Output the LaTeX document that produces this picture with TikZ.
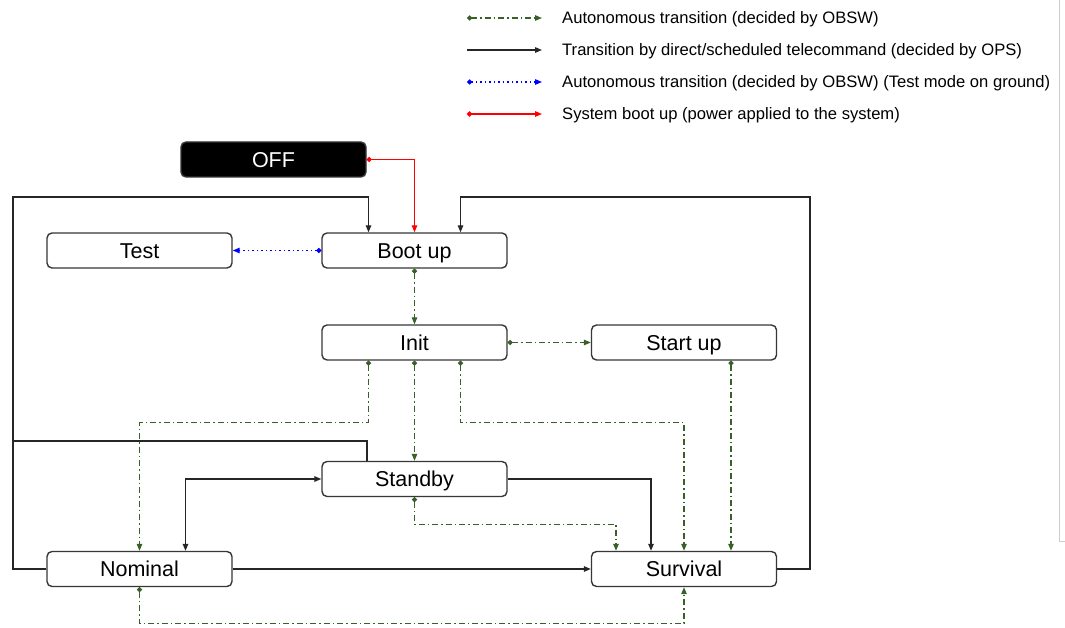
\documentclass[tikz,border=0pt]{standalone}
\usepackage{fontspec}
\setmainfont{Liberation Sans}
\usetikzlibrary{arrows.meta}
\definecolor{obsw}{RGB}{56,96,40}
\definecolor{frame}{RGB}{55,55,55}
\definecolor{edgegray}{RGB}{205,205,205}
\tikzset{
  x=1pt, y=-1pt,
  state/.style={draw=frame, line width=1.4pt, rounded corners=5pt, fill=white,
    minimum width=185pt, minimum height=35pt, inner sep=0pt,
    text height=15.4pt, text depth=0pt,
    font=\fontsize{21.5}{24}\selectfont},
  offstate/.style={state, fill=black, text=white},
  tip/.style={-{Triangle[length=7pt,width=5.5pt]}},
  dottip/.style={{Circle[length=5pt]}-{Triangle[length=7pt,width=5.5pt]}},
  autoarr/.style={dottip, draw=obsw, line width=1.2pt,
    dash pattern=on 6pt off 3pt on 1.5pt off 3pt},
  tcarr/.style={tip, draw=black!85, line width=1.3pt},
  tcline/.style={draw=black!85, line width=1.3pt},
  testarr/.style={dottip, draw=blue, line width=1.2pt, dash pattern=on 1.5pt off 3pt},
  bootarr/.style={dottip, draw=red, line width=1.3pt},
  legtext/.style={anchor=west, inner sep=0pt, text height=11.9pt, text depth=0pt,
    font=\fontsize{16.6}{19}\selectfont}
}
\begin{document}
\begin{tikzpicture}
\useasboundingbox[fill=white] (0,0) rectangle (1065,628);
% page edge mark on the right
\draw[edgegray, line width=1pt] (1059,0) -- (1059,541) -- (1065,541);

% legend
\foreach \i/\y/\sty/\txt in {
  1/18/autoarr/{Autonomous transition (decided by OBSW)},
  2/50/tcarr/{Transition by direct/scheduled telecommand (decided by OPS)},
  3/82/testarr/{Autonomous transition (decided by OBSW) (Test mode on ground)},
  4/114/bootarr/{System boot up (power applied to the system)}}{
  \coordinate (ls\i) at (467,\y);
  \coordinate (le\i) at (542,\y);
  \draw[\sty] (ls\i) -- (le\i);
  \node[legtext] (lt\i) at (562,\y) {\txt};
}

% states
\node[offstate] (off)      at (273.5,159.5) {OFF};
\node[state]    (test)     at (139.5,250.5) {Test};
\node[state]    (boot)     at (414.5,250.5) {Boot up};
\node[state]    (init)     at (414.5,342.5) {Init};
\node[state]    (startup)  at (684,342.5)   {Start up};
\node[state]    (standby)  at (414.5,479)   {Standby};
\node[state]    (nominal)  at (139.5,569)   {Nominal};
\node[state]    (survival) at (684,569)     {Survival};

% rails of the telecommand loops back to boot up
\coordinate (lrail) at (13,197);
\coordinate (lmid)  at (13,441);
\coordinate (rrail) at (810,197);

% power on
\draw[bootarr] (off.east) -| (boot.north);

% ground test mode
\draw[testarr] (boot.west) -- (test.east);

% autonomous transitions
\draw[autoarr] (boot.south) -- (init.north);
\draw[autoarr] (init.east) -- (startup.west);
\draw[autoarr] ([xshift=-46pt]init.south) -- ++(0,62) -| (nominal.north);
\draw[autoarr] (init.south) -- (standby.north);
\draw[autoarr] ([xshift=46pt]init.south) -- ++(0,62) -| (survival.north);
\draw[autoarr] ([xshift=47pt]startup.south) -- ([xshift=47pt]survival.north);
\draw[autoarr] (standby.south) -- ++(0,27) -| ([xshift=-68pt]survival.north);
\draw[autoarr] (nominal.south) -- ++(0,36) -| (survival.south);

% telecommanded transitions
\draw[tcarr] (standby.east) -| ([xshift=-33pt]survival.north);
\draw[tcarr, {Triangle[length=7pt,width=5.5pt]}-{Triangle[length=7pt,width=5.5pt]}]
  ([xshift=46pt]nominal.north) |- (standby.west);
\draw[tcarr] (nominal.east) -- (survival.west);
\draw[tcarr] (nominal.west) -| (lrail) -| ([xshift=-46pt]boot.north);
\draw[tcline] ([xshift=-47.5pt]standby.north) |- (lmid);
\draw[tcarr] (survival.east) -| (rrail) -| ([xshift=46pt]boot.north);
\end{tikzpicture}
\end{document}
